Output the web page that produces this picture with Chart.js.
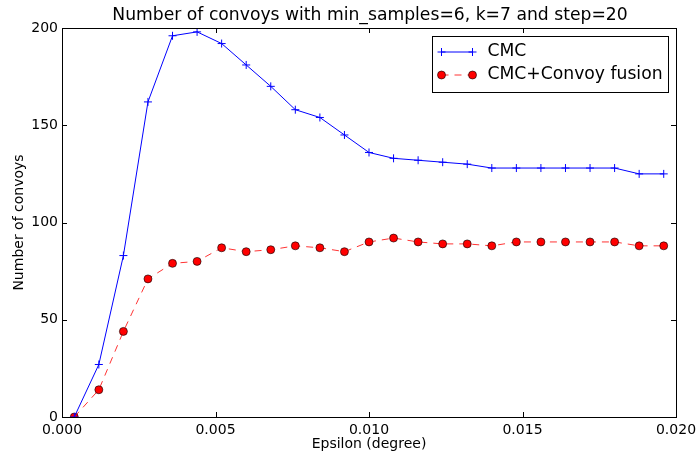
<!DOCTYPE html>
<html lang="en">
<head>
    <meta charset="UTF-8">
    <title>Number of convoys</title>
    <script src="https://cdn.jsdelivr.net/npm/chart.js"></script>
    <style>
        body {
            margin: 0;
            background-color: #fff;
        }
    </style>
</head>
<body>
    <canvas id="convoy-chart" width="699" height="458"></canvas>

    <script>
        // Values
        var epsilon = [0.0004, 0.0012, 0.0020, 0.0028, 0.0036, 0.0044, 0.0052, 0.0060, 0.0068,
                       0.0076, 0.0084, 0.0092, 0.0100, 0.0108, 0.0116, 0.0124, 0.0132, 0.0140,
                       0.0148, 0.0156, 0.0164, 0.0172, 0.0180, 0.0188, 0.0196];
        var cmc = [0, 27, 83, 162, 196, 198, 192, 181, 170, 158, 154, 145, 136, 133, 132, 131, 130,
                   128, 128, 128, 128, 128, 128, 125, 125];
        var fusion = [0, 14, 44, 71, 79, 80, 87, 85, 86, 88, 87, 85, 90, 92, 90, 89, 89, 88, 90, 90,
                      90, 90, 90, 88, 88];
        var xTicks = [0, 0.005, 0.010, 0.015, 0.020];
        var yTicks = [0, 50, 100, 150, 200];

        var seriesNames = ['CMC', 'CMC+Convoy fusion'];
        var titleText = 'Number of convoys with min_samples=6, k=7 and step=20';
        var FONT = '"DejaVu Sans", sans-serif';

        function toPoints(ys) {
            return ys.map(function(y, i) { return {x: epsilon[i], y: y}; });
        }

        function drawMarker(ctx, style, x, y) {
            ctx.save();
            if (style === 'cross') {
                ctx.strokeStyle = '#0000ff';
                ctx.lineWidth = 1;
                ctx.beginPath();
                ctx.moveTo(x - 4, y); ctx.lineTo(x + 4, y);
                ctx.moveTo(x, y - 4); ctx.lineTo(x, y + 4);
                ctx.stroke();
            } else {
                ctx.fillStyle = '#ff0000';
                ctx.strokeStyle = '#000';
                ctx.lineWidth = 0.6;
                ctx.beginPath();
                ctx.arc(x, y, 4, 0, Math.PI * 2);
                ctx.fill();
                ctx.stroke();
            }
            ctx.restore();
        }

        // matplotlib-like frame: box, inward ticks on four sides, title and legend
        var framePlugin = {
            id: 'frame',
            afterDatasetsDraw: function(chart) {
                var ctx = chart.ctx;
                var a = chart.chartArea;
                var xs = chart.scales.x, ys = chart.scales.y;
                var tl = 5;
                ctx.save();
                ctx.strokeStyle = '#000';
                ctx.lineWidth = 1;
                ctx.beginPath();
                xTicks.forEach(function(v) {
                    var px = Math.round(xs.getPixelForValue(v)) + 0.5;
                    ctx.moveTo(px, a.bottom); ctx.lineTo(px, a.bottom - tl);
                    ctx.moveTo(px, a.top); ctx.lineTo(px, a.top + tl);
                });
                yTicks.forEach(function(v) {
                    var py = Math.round(ys.getPixelForValue(v)) + 0.5;
                    ctx.moveTo(a.left, py); ctx.lineTo(a.left + tl, py);
                    ctx.moveTo(a.right, py); ctx.lineTo(a.right - tl, py);
                });
                ctx.stroke();
                ctx.strokeRect(Math.round(a.left) + 0.5, Math.round(a.top) + 0.5,
                               Math.round(a.right - a.left), Math.round(a.bottom - a.top));

                // legend
                var bx = Math.round(a.right) - 244 + 0.5, by = Math.round(a.top) + 8 + 0.5;
                ctx.fillStyle = '#fff';
                ctx.fillRect(bx, by, 236, 56);
                ctx.strokeRect(bx, by, 236, 56);
                var rows = [by + 15.5, by + 38.5];
                var x0 = bx + 9, x1 = bx + 40;
                ctx.strokeStyle = '#0000ff';
                ctx.beginPath(); ctx.moveTo(x0, rows[0]); ctx.lineTo(x1, rows[0]); ctx.stroke();
                drawMarker(ctx, 'cross', x0, rows[0]);
                drawMarker(ctx, 'cross', x1, rows[0]);
                ctx.strokeStyle = '#ff3333';
                ctx.setLineDash([7, 6]);
                ctx.beginPath(); ctx.moveTo(x0, rows[1]); ctx.lineTo(x1, rows[1]); ctx.stroke();
                ctx.setLineDash([]);
                drawMarker(ctx, 'circle', x0, rows[1]);
                drawMarker(ctx, 'circle', x1, rows[1]);
                ctx.fillStyle = '#000';
                ctx.font = '17.2px ' + FONT;
                ctx.textBaseline = 'middle';
                ctx.textAlign = 'left';
                ctx.fillText(seriesNames[0], bx + 55, rows[0]);
                ctx.fillText(seriesNames[1], bx + 55, rows[1]);

                // title
                ctx.textAlign = 'center';
                ctx.fillText(titleText, (a.left + a.right) / 2 + 1, 16);
                ctx.restore();
            }
        };

        var ctx = document.getElementById('convoy-chart').getContext('2d');
        var chart = new Chart(ctx, {
            type: 'line',
            data: {
                datasets: [{
                    label: seriesNames[0],
                    data: toPoints(cmc),
                    borderColor: '#0000ff',
                    backgroundColor: '#0000ff',
                    borderWidth: 1,
                    pointStyle: 'cross',
                    pointRadius: 4,
                    pointBorderWidth: 1,
                    pointBorderColor: '#0000ff',
                    tension: 0
                }, {
                    label: seriesNames[1],
                    data: toPoints(fusion),
                    borderColor: '#ff3333',
                    backgroundColor: '#ff0000',
                    borderWidth: 1,
                    borderDash: [7, 6],
                    pointStyle: 'circle',
                    pointRadius: 4,
                    pointBorderWidth: 0.6,
                    pointBorderColor: '#000',
                    pointBackgroundColor: '#ff0000',
                    tension: 0
                }]
            },
            options: {
                responsive: false,
                animation: false,
                layout: { padding: { left: 0, right: 23, top: 28, bottom: 0 } },
                plugins: {
                    legend: { display: false },
                    tooltip: { enabled: false }
                },
                scales: {
                    x: {
                        type: 'linear',
                        min: 0,
                        max: 0.02,
                        afterBuildTicks: function(s) { s.ticks = xTicks.map(function(v) { return {value: v}; }); },
                        afterFit: function(s) {
                            s.height = 41;
                            s.paddingLeft = 0;
                            s.paddingRight = 0;
                        },
                        grid: { display: false, drawTicks: false },
                        border: { display: false },
                        ticks: {
                            padding: 5,
                            maxRotation: 0,
                            color: '#000',
                            font: { family: FONT, size: 14 },
                            callback: function(v) { return Number(v).toFixed(3); }
                        },
                        title: {
                            display: true,
                            text: 'Epsilon (degree)',
                            color: '#000',
                            font: { family: FONT, size: 14 },
                            padding: { top: 0, bottom: 5 }
                        }
                    },
                    y: {
                        min: 0,
                        max: 200,
                        afterBuildTicks: function(s) { s.ticks = yTicks.map(function(v) { return {value: v}; }); },
                        afterFit: function(s) {
                            s.width = 62;
                            s.paddingTop = 0;
                            s.paddingBottom = 0;
                        },
                        grid: { display: false, drawTicks: false },
                        border: { display: false },
                        ticks: {
                            padding: 4,
                            color: '#000',
                            font: { family: FONT, size: 14 }
                        },
                        title: {
                            display: true,
                            text: 'Number of convoys',
                            color: '#000',
                            font: { family: FONT, size: 14 },
                            padding: { top: 11, bottom: 0 }
                        }
                    }
                }
            },
            plugins: [framePlugin]
        });
    </script>
</body>
</html>
